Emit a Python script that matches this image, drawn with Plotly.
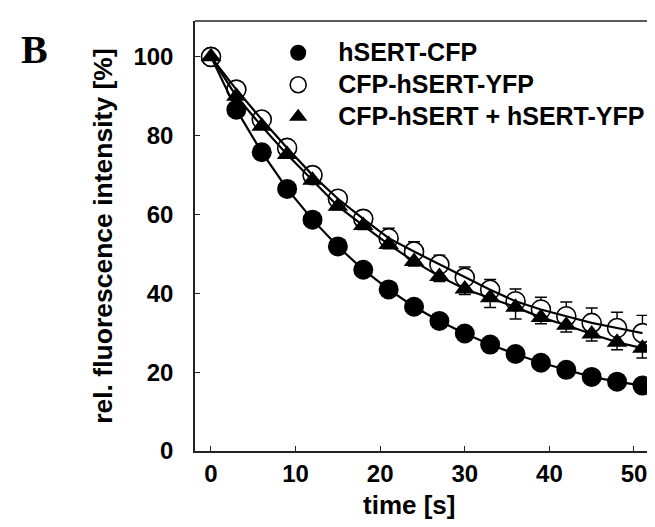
import plotly.graph_objects as go

time_s = [0, 3, 6, 9, 12, 15, 18, 21, 24, 27, 30, 33, 36, 39, 42, 45, 48, 51]
hsert_cfp = [100, 86.6, 75.8, 66.5, 58.7, 51.9, 46.0, 41.0, 36.6, 33.0, 29.8, 27.0, 24.6, 22.4, 20.6, 18.8, 17.6, 16.6]
cfp_hsert_yfp = [100, 91.7, 84.1, 76.9, 70.0, 64.0, 58.9, 54.0, 50.6, 47.3, 44.0, 40.9, 38.0, 35.9, 34.2, 32.5, 31.2, 29.9]
cfp_hsert_yfp_err = [0, 0.8, 1.0, 1.2, 1.5, 1.8, 2.1, 2.5, 2.5, 2.4, 2.7, 2.6, 3.1, 3.1, 3.6, 3.8, 4.0, 4.5]
mix = [100, 90.0, 82.4, 75.2, 68.7, 62.1, 57.2, 52.4, 48.1, 44.3, 41.1, 38.9, 36.5, 33.9, 31.9, 29.7, 27.6, 26.1]
mix_err = [0, 0.5, 0.6, 0.7, 0.8, 0.9, 1.0, 1.1, 1.2, 1.3, 1.4, 2.5, 3.0, 1.6, 1.7, 1.8, 1.9, 2.5]
zeros = [0] * len(time_s)

names = ["hSERT-CFP", "CFP-hSERT-YFP", "CFP-hSERT + hSERT-YFP"]
x_ticks = [0, 10, 20, 30, 40, 50]
y_ticks = [0, 20, 40, 60, 80, 100]

FONT = "Liberation Sans, Arial, Helvetica, sans-serif"
BLACK = "#000000"


def legend_label(s):
    return '<span style="font-size:25px">' + s + "</span>"


fig = go.Figure()

fig.add_trace(go.Scatter(
    x=time_s, y=hsert_cfp, mode="markers", name=legend_label(names[0]),
    marker=dict(symbol="circle", size=20, color=BLACK, line=dict(width=0)),
))
fig.add_trace(go.Scatter(
    x=time_s, y=cfp_hsert_yfp, mode="markers", name=legend_label(names[1]),
    marker=dict(symbol="circle", size=19, color="white", line=dict(color=BLACK, width=1.6)),
    error_y=dict(type="data", symmetric=False, array=cfp_hsert_yfp_err, arrayminus=zeros,
                 color=BLACK, thickness=1.4, width=6),
))
fig.add_trace(go.Scatter(
    x=time_s, y=mix, mode="markers", name=legend_label(names[2]),
    marker=dict(symbol="triangle-up", size=18, color=BLACK, line=dict(width=0)),
    error_y=dict(type="data", symmetric=False, array=zeros, arrayminus=mix_err,
                 color=BLACK, thickness=1.4, width=6),
))

# fitted curves, drawn over the symbols
for ys in (hsert_cfp, cfp_hsert_yfp, mix):
    fig.add_trace(go.Scatter(x=time_s, y=ys, mode="lines",
                             line=dict(color=BLACK, width=2.2),
                             showlegend=False, hoverinfo="skip"))

axis_common = dict(
    showline=True, linecolor="#222222", linewidth=1.5,
    ticks="inside", ticklen=5, tickwidth=1.2, tickcolor="#222222",
    showgrid=False, zeroline=False,
    tickfont=dict(family=FONT, size=24, color=BLACK, weight="bold"),
)

fig.update_xaxes(range=[-1.89, 53.43], tickvals=x_ticks, ticktext=[str(v) for v in x_ticks],
                 ticklabelstandoff=0, **axis_common)
fig.update_yaxes(range=[0, 109.1], tickvals=y_ticks, ticktext=[str(v) for v in y_ticks],
                 ticklabelstandoff=15, **axis_common)

fig.add_shape(type="line", xref="paper", yref="paper", x0=0, x1=1, y0=1, y1=1,
              line=dict(color="#222222", width=1.5))

fig.add_annotation(text="rel. fluorescence intensity [%]", xref="paper", yref="paper",
                   x=-0.197, y=0.5, textangle=-90, showarrow=False,
                   xanchor="center", yanchor="middle",
                   font=dict(family=FONT, size=26.5, color=BLACK, weight="bold"))
fig.add_annotation(text="time [s]", xref="paper", yref="paper",
                   x=0.457, y=-0.1256, showarrow=False,
                   xanchor="center", yanchor="middle",
                   font=dict(family=FONT, size=26, color=BLACK, weight="bold"))
fig.add_annotation(text="B", xref="paper", yref="paper",
                   x=-0.344, y=0.933, showarrow=False,
                   xanchor="center", yanchor="middle",
                   font=dict(family="Liberation Serif, Times New Roman, serif", size=40,
                             color=BLACK, weight="bold"))

fig.update_layout(
    width=655, height=527,
    margin=dict(l=187, r=0, t=13, b=84),
    paper_bgcolor="white", plot_bgcolor="white",
    showlegend=True,
    legend=dict(x=0.135, y=0.975, xanchor="left", yanchor="top",
                bgcolor="rgba(0,0,0,0)", borderwidth=0,
                itemwidth=70, itemsizing="trace",
                font=dict(family=FONT, size=22.3, color=BLACK, weight="bold")),
)

fig.write_html("out.html")
